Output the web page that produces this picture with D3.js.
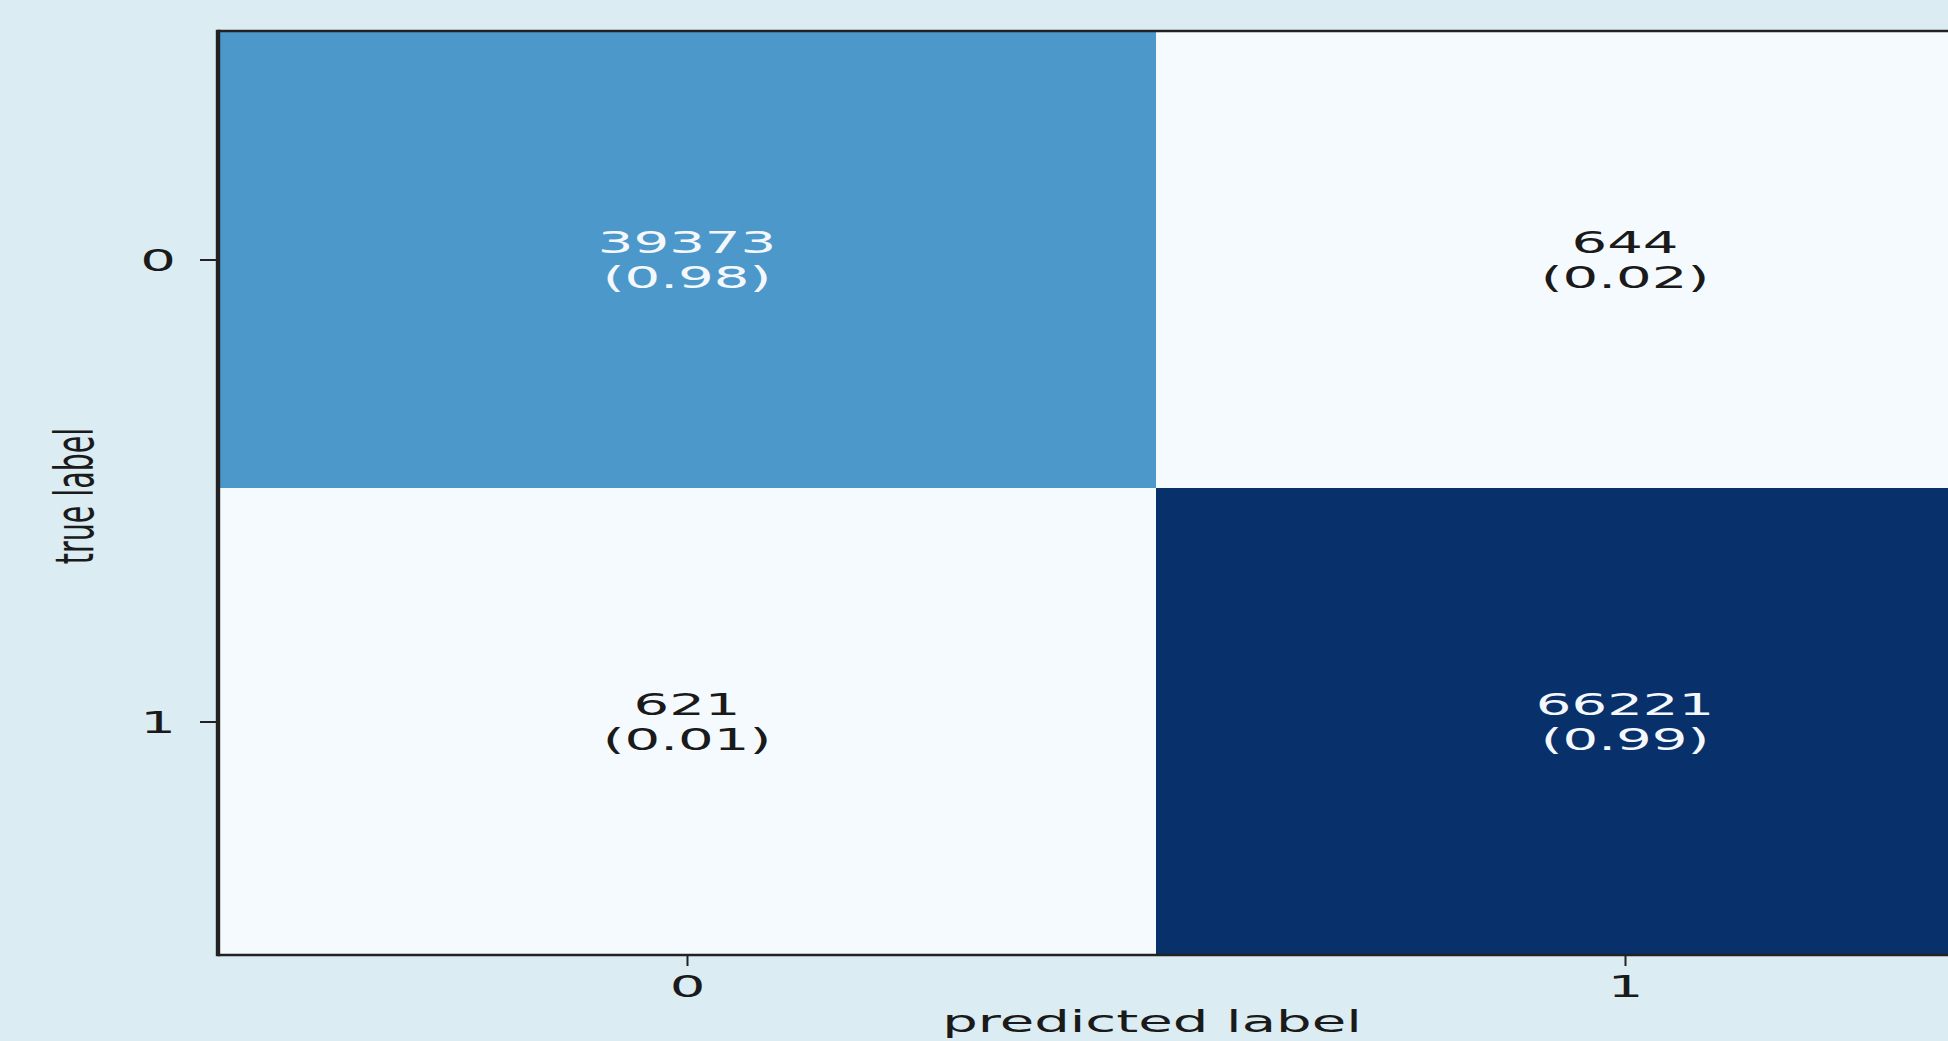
<!DOCTYPE html>
<html>
<head>
<meta charset="utf-8">
<script src="https://cdn.jsdelivr.net/npm/d3@7"></script>
<style>
  html, body { margin: 0; padding: 0; background: #dbecf2; overflow: hidden; }
  svg { display: block; }
  text { font-family: "DejaVu Sans", sans-serif; }
</style>
</head>
<body>
<svg id="chart" width="1948" height="1041"></svg>
<script>
// ---- data ----
const classLabels = ["0", "1"];
const countsTrue0 = [39373, 644];
const countsTrue1 = [621, 66221];
const normTrue0 = [0.98, 0.02];
const normTrue1 = [0.01, 0.99];
const xAxisTitle = "predicted label";
const yAxisTitle = "true label";

const counts = [countsTrue0, countsTrue1];
const normed = [normTrue0, normTrue1];
const cells = [];
counts.forEach((row, r) => row.forEach((v, c) => cells.push({ r, c, v, n: normed[r][c] })));

// ---- layout ----
const W = 1948, H = 1041;
const SX = 1.87;        // horizontal stretch of the reference picture
const FS = 30;

const svg = d3.select("#chart");
svg.append("rect").attr("width", W).attr("height", H).attr("fill", "#dbecf2");

const x = d3.scaleLinear().domain([0, 1, 2]).range([218, 1156, 2094]);
const y = d3.scaleLinear().domain([0, 1, 2]).range([31, 488, 955]);
const maxV = d3.max(cells, d => d.v);
const color = d3.scaleSequential(d3.interpolateBlues).domain([0, maxV]);

// cells
svg.append("g").selectAll("rect").data(cells).join("rect")
  .attr("x", d => x(d.c)).attr("y", d => y(d.r))
  .attr("width", d => x(d.c + 1) - x(d.c))
  .attr("height", d => y(d.r + 1) - y(d.r))
  .attr("fill", d => color(d.v));

// cell labels
const lab = svg.append("g").selectAll("g").data(cells).join("g")
  .attr("transform", d => `translate(${x(d.c + 0.5)},${y(d.r + 0.5)}) scale(${SX},1)`)
  .attr("fill", d => d.v > maxV / 2 ? "#f4f8fc" : "#1a1a1a")
  .attr("font-size", FS).attr("text-anchor", "middle");
lab.append("text").attr("y", -7).text(d => d.v);
lab.append("text").attr("y", 28).text(d => `(${d.n.toFixed(2)})`);

// axes
const xAxis = d3.axisBottom(x).tickValues([0.5, 1.5])
  .tickFormat((d, i) => classLabels[i]).tickSize(11).tickSizeOuter(0);
const gx = svg.append("g").attr("transform", `translate(0,${y(2)})`).call(xAxis);
gx.select(".domain").remove();
gx.selectAll(".tick line").attr("stroke", "#222").attr("stroke-width", 2);
gx.selectAll(".tick text")
  .attr("y", 42).attr("dy", 0)
  .attr("transform", `scale(${SX},1)`)
  .attr("font-size", FS).attr("fill", "#1a1a1a").attr("font-family", "DejaVu Sans");

const yAxis = d3.axisLeft(y).tickValues([0.5, 1.5])
  .tickFormat((d, i) => classLabels[i]).tickSize(18).tickSizeOuter(0);
const gy = svg.append("g").attr("transform", `translate(${x(0)},0)`).call(yAxis);
gy.select(".domain").remove();
gy.selectAll(".tick line").attr("stroke", "#222").attr("stroke-width", 2);
gy.selectAll(".tick text")
  .attr("x", -42 / SX).attr("dy", "0.36em")
  .attr("transform", `scale(${SX},1)`)
  .attr("font-size", FS).attr("fill", "#1a1a1a").attr("font-family", "DejaVu Sans");

// spines
const sp = svg.append("g").attr("stroke", "#222");
sp.append("line").attr("x1", x(0)).attr("x2", x(2)).attr("y1", y(0)).attr("y2", y(0)).attr("stroke-width", 2.5);
sp.append("line").attr("x1", x(0)).attr("x2", x(2)).attr("y1", y(2)).attr("y2", y(2)).attr("stroke-width", 2.5);
sp.append("line").attr("x1", x(0)).attr("x2", x(0)).attr("y1", y(0) - 1.25).attr("y2", y(2) + 1.25).attr("stroke-width", 4.4);

// axis titles
svg.append("text")
  .attr("transform", `translate(${(x(0) + x(2)) / 2 - 4},1032) scale(${SX},1)`)
  .attr("text-anchor", "middle").attr("font-size", FS).attr("fill", "#1a1a1a")
  .text(xAxisTitle);
svg.append("text")
  .attr("transform", `translate(93,496) scale(${SX},1) rotate(-90)`)
  .attr("text-anchor", "middle").attr("font-size", 28.5).attr("fill", "#1a1a1a")
  .text(yAxisTitle);
</script>
</body>
</html>
